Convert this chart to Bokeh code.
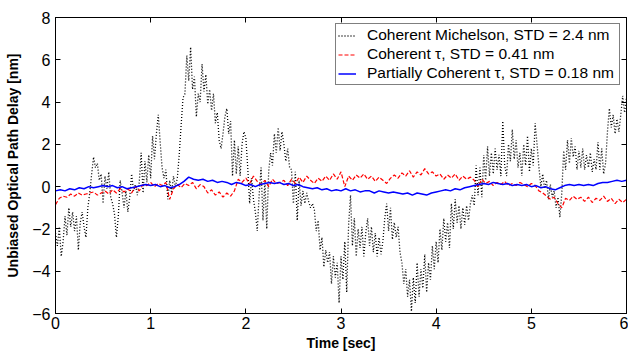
import numpy as np
from bokeh.plotting import figure
from bokeh.models import Range1d, LinearAxis, FixedTicker, Legend, LegendItem
from bokeh.embed import file_html
from bokeh.resources import INLINE

# ---- data ----
x_ticks = [0, 1, 2, 3, 4, 5, 6]
y_ticks = [-6, -4, -2, 0, 2, 4, 6, 8]

michelson_step = 0.02
michelson = [
    -2.2, -2.8, -1.9, -3.3, -2.6, -1.4, -2.3, -1.0, -1.9, -1.2,
    -2.1, -1.4, -3.0, -1.7, -1.2, -1.9, -2.4, -1.0, -0.3, 0.6,
    1.4, 0.9, 1.1, 0.3, 0.6, -0.8, 0.5, -0.1, 0.7, -0.5,
    -0.8, -1.3, -2.4, -1.4, 0.3, -0.3, -1.0, -0.2, -1.2, -0.5,
    0.6, -0.2, 0.1, -0.4, 0.2, 1.6, -0.3, 1.2, 0.2, 1.5,
    0.4, 2.4, 1.3, 2.5, 3.4, 2.1, 0.9, 0.4, 0.8, -0.6,
    0.3, -0.3, 0.5, 0.0, 0.4, 1.5, 2.9, 4.2, 4.4, 6.2,
    5.0, 6.6, 4.6, 5.2, 3.3, 4.4, 4.0, 5.8, 4.5, 5.3,
    3.9, 4.6, 3.6, 4.4, 3.0, 3.5, 2.2, 1.8, 2.5, 3.3,
    3.7, 2.5, 3.1, 0.5, 2.2, 0.6, 1.9, 0.5, 2.0, 2.6,
    2.3, 0.9, -0.8, 0.4, -0.6, -1.2, -2.1, -0.4, 0.9, -1.6,
    0.3, -2.0, 0.7, 1.6, 1.0, 2.5, 1.6, 2.8, 1.7, 2.6,
    2.0, 1.2, 1.8, 0.9, 0.8, -0.8, 0.7, -1.6, 0.3, -0.9,
    -0.2, -0.8, -0.3, -0.7, -1.0, -0.8, -1.1, -2.1, -1.6, -3.0,
    -2.4, -3.8, -3.0, -3.6, -3.1, -4.6, -3.3, -4.3, -3.6, -5.5,
    -3.3, -4.4, -2.6, -5.0, -1.8, -0.4, -2.8, -1.5, -3.3, -2.0,
    -2.9, -1.9, -3.3, -2.2, -1.5, -2.8, -1.9, -3.1, -2.2, -3.3,
    -2.4, -3.2, -2.6, -1.5, -0.8, -2.1, -1.0, -2.5, -1.7, -2.4,
    -1.9, -3.1, -3.6, -4.6, -3.9, -5.2, -4.4, -5.9, -4.3, -5.5,
    -3.6, -5.2, -3.9, -4.8, -3.2, -5.0, -3.6, -4.4, -2.8, -3.9,
    -2.6, -3.6, -2.0, -3.0, -1.5, -2.6, -1.7, -2.9, -0.8, -2.0,
    -0.6, -1.7, -0.9, -2.0, -1.0, -1.8, -0.9, -1.6, -0.8, -0.4,
    -0.9, 1.0, -0.4, 0.9, -0.5, 1.5, 0.3, 1.9, 0.5, 1.6,
    0.6, 1.8, 0.8, 1.5, 0.5, 3.1, 1.0, 0.5, 2.0, 1.2,
    2.7, 1.3, 2.2, 0.9, 1.6, 0.5, 2.0, 1.0, 2.4, 0.7,
    1.8, 1.0, 3.0, 2.0, 0.9, 0.0, 0.6, -0.1, 0.3, -0.6,
    0.1, -0.5, -0.2, -1.0, -0.5, -1.45, -0.3, 1.7, 0.8, 2.2,
    1.1, 2.3, 1.4, 1.9, 0.8, 1.7, 0.9, 1.8, 0.8, 1.5,
    0.9, 1.6, 0.7, 1.3, 0.8, 2.1, 0.8, 1.8, 0.6, 1.1,
    2.6, 3.7, 2.8, 3.4, 2.5, 3.2, 2.6, 3.4, 4.3, 3.5,
    4.2,
]

coherent_tau_step = 0.04
coherent_tau = [
    -0.85, -0.55, -0.45, -0.5, -0.35, -0.45, -0.3, -0.4, -0.35, -0.3,
    -0.25, -0.4, -0.3, -0.2, -0.35, -0.15, -0.3, -0.1, -0.25, -0.1,
    -0.3, 0.0, -0.2, 0.1, 0.05, 0.2, 0.0, 0.15, 0.05, 0.2,
    -0.6, -0.1, 0.1, -0.05, 0.15, 0.05, 0.2, -0.1, 0.1, 0.0,
    -0.3, -0.15, -0.4, -0.25, -0.5, -0.3, -0.45, -0.2, 0.35, 0.2,
    0.4, 0.15, 0.5, 0.25, 0.1, 0.3, 0.0, 0.35, 0.15, 0.2,
    0.3, 0.05, 0.35, 0.15, 0.45, 0.2, 0.5, 0.3, 0.15, 0.4,
    0.25, 0.5, 0.3, 0.6, 0.35, 0.7, 0.0, 0.5, 0.3, 0.55,
    0.4, 0.6, 0.35, 0.5, 0.25, 0.45, 0.3, 0.15, 0.4, 0.55,
    0.4, 0.65, 0.5, 0.75, 0.45, 0.7, 0.55, 0.85, 0.6, 0.7,
    0.5, 0.6, 0.35, 0.55, 0.4, 0.6, 0.3, 0.5, 0.35, 0.45,
    0.3, 0.0, 0.35, 0.15, 0.25, 0.05, 0.2, 0.1, 0.25, 0.05,
    0.15, 0.05, 0.2, 0.1, 0.0, 0.15, 0.05, -0.2, -0.3, -0.45,
    -0.6, -0.5, -0.8, -1.0, -0.55, -0.65, -0.45, -0.6, -0.5, -0.7,
    -0.5, -0.75, -0.55, -0.65, -0.45, -0.7, -0.55, -0.8, -0.6, -0.75,
    -0.6,
]

partial_tau_step = 0.05
partial_tau = [
    -0.2, -0.15, -0.2, -0.1, -0.15, -0.05, -0.1, 0.0, -0.05, 0.0,
    0.05, 0.0, 0.05, -0.05, 0.0, -0.1, -0.05, 0.0, 0.05, 0.1,
    0.05, 0.1, 0.0, 0.05, -0.05, 0.0, 0.1, 0.25, 0.45, 0.35,
    0.3, 0.35, 0.25, 0.3, 0.2, 0.25, 0.2, 0.1, 0.2, 0.15,
    0.05, 0.1, 0.0, 0.1, 0.15, 0.2, 0.15, 0.2, 0.1, 0.15,
    0.05, 0.1, 0.0, -0.05, -0.1, -0.05, -0.15, -0.1, -0.2, -0.15,
    -0.2, -0.1, -0.2, -0.15, -0.25, -0.2, -0.2, -0.3, -0.2, -0.25,
    -0.3, -0.25, -0.3, -0.35, -0.3, -0.4, -0.3, -0.35, -0.4, -0.3,
    -0.25, -0.2, -0.15, -0.2, -0.1, -0.15, -0.05, 0.0, 0.05, 0.1,
    0.15, 0.1, 0.2, 0.15, 0.1, 0.15, 0.05, 0.1, 0.05, 0.1,
    0.0, 0.05, -0.05, 0.0, -0.1, -0.15, -0.05, 0.05, 0.1, 0.05,
    0.1, 0.05, 0.1, 0.05, 0.15, 0.2, 0.2, 0.25, 0.3, 0.25,
    0.3,
]

labels = [
    "Coherent Michelson, STD = 2.4 nm",
    "Coherent \u03c4, STD = 0.41 nm",
    "Partially Coherent \u03c4, STD = 0.18 nm",
]


def times(vals, step):
    return np.round(np.arange(len(vals)) * step, 4)


FONT = "Liberation Sans"

p = figure(width=628, height=358, output_backend="svg", toolbar_location=None,
           x_range=Range1d(0, 6), y_range=Range1d(-6, 8),
           min_border_left=55, min_border_right=2, min_border_top=17,
           min_border_bottom=45)
p.grid.visible = False
p.outline_line_color = "black"
p.outline_line_width = 1
p.background_fill_color = "white"
p.border_fill_color = "white"

r1 = p.line(times(michelson, michelson_step), michelson, line_color="black",
            line_width=1.3, line_dash="1 2")
r2 = p.line(times(coherent_tau, coherent_tau_step), coherent_tau, line_color="red",
            line_width=1.2, line_dash="4 2")
r3 = p.line(times(partial_tau, partial_tau_step), partial_tau, line_color="blue",
            line_width=1.5)

for ax, ticks in ((p.xaxis[0], x_ticks), (p.yaxis[0], y_ticks)):
    ax.ticker = FixedTicker(ticks=ticks)
    ax.major_tick_in = 5
    ax.major_tick_out = 0
    ax.minor_tick_in = 0
    ax.minor_tick_out = 0
    ax.axis_line_color = "black"
    ax.major_tick_line_color = "black"
    ax.major_label_text_font = FONT
    ax.major_label_text_font_size = "16px"
    ax.major_label_text_color = "black"
    ax.axis_label_text_font = FONT
    ax.axis_label_text_font_style = "bold"
    ax.axis_label_text_font_size = "14px"
    ax.axis_label_text_color = "black"

p.xaxis.axis_label = "Time [sec]"
p.xaxis.major_label_standoff = 3
p.xaxis.axis_label_standoff = 3
p.yaxis.axis_label = "Unbiased Optical Path Delay [nm]"
p.yaxis.major_label_standoff = 5
p.yaxis.axis_label_standoff = 8

for side, ticks in (("above", x_ticks), ("right", y_ticks)):
    ax = LinearAxis(ticker=FixedTicker(ticks=ticks))
    ax.major_label_overrides = {t: "" for t in ticks}
    ax.major_tick_in = 5
    ax.major_tick_out = 0
    ax.minor_tick_in = 0
    ax.minor_tick_out = 0
    ax.major_label_standoff = 0
    ax.axis_line_color = "black"
    ax.major_tick_line_color = "black"
    p.add_layout(ax, side)

legend = Legend(items=[LegendItem(label=labels[0], renderers=[r1]),
                       LegendItem(label=labels[1], renderers=[r2]),
                       LegendItem(label=labels[2], renderers=[r3])],
                location="top_right")
legend.label_text_font = FONT
legend.label_text_font_size = "15.5px"
legend.label_text_color = "black"
legend.border_line_color = "black"
legend.border_line_width = 1
legend.background_fill_alpha = 1
legend.margin = 6
legend.padding = 2
legend.spacing = 1
legend.glyph_width = 18
legend.glyph_height = 17
legend.label_height = 17
legend.label_width = 250
legend.label_standoff = 11
p.add_layout(legend, "center")

open("out.html", "w").write(file_html(p, INLINE))
